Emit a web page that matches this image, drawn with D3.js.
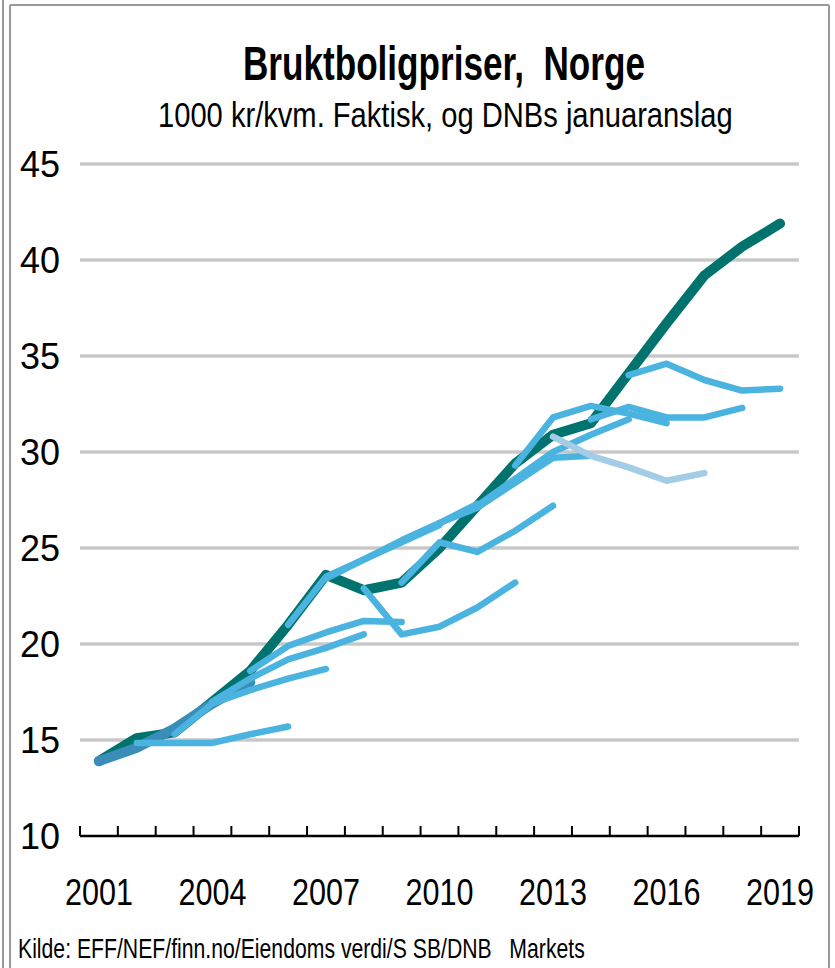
<!DOCTYPE html>
<html>
<head>
<meta charset="utf-8">
<script src="https://cdn.jsdelivr.net/npm/d3@7"></script>
<style>
  html, body { margin: 0; padding: 0; background: #fff; }
  svg { display: block; }
  text { font-family: "Liberation Sans Narrow", "Arial Narrow", "Liberation Sans", Arial, sans-serif; fill: #000; white-space: pre; }
</style>
</head>
<body>
<svg id="chart" width="835" height="968"></svg>
<script>
// år på x-aksen
const years = d3.range(2001, 2020);
const yearLabels = [2001, 2004, 2007, 2010, 2013, 2016, 2019];
const yTicks = [10, 15, 20, 25, 30, 35, 40, 45];

// faktisk pris, 1000 kr/kvm
const actual = [13.9, 15.1, 15.4, 17.0, 18.6, 21.0, 23.6, 22.8, 23.2, 25.0,
                27.2, 29.4, 30.9, 31.5, 34.1, 36.7, 39.2, 40.7, 41.9];

// DNBs januaranslag, ett per år (startår + 5 verdier)
const f2001 = [13.9, 14.6, 15.6, 16.9, 18.0];
const f2002 = [14.85, 14.85, 14.85, 15.3, 15.7];
const f2003 = [15.3, 16.9, 17.6, 18.2, 18.7];
const f2004 = [17.0, 18.2, 19.2, 19.8, 20.5];
const f2005 = [18.6, 19.9, 20.6, 21.2, 21.15];
const f2006 = [21.0, 23.5, 24.4, 25.3, 26.2];
const f2007 = [23.4, 24.4, 25.4, 26.3, 27.3];
const f2008 = [22.9, 20.5, 20.9, 21.9, 23.2];
const f2009 = [23.2, 25.3, 24.8, 25.9, 27.2];
const f2010 = [26.3, 27.1, 28.4, 29.7, 29.8];
const f2011 = [27.2, 28.6, 30.0, 30.9, 31.7];
const f2012 = [29.3, 31.8, 32.4, 32.0, 31.5];
const f2013 = [30.8, 29.8, 29.2, 28.5, 28.9];
const f2014 = [31.7, 32.35, 31.8, 31.8, 32.3];
const f2015 = [34.0, 34.6, 33.75, 33.2, 33.3];

const forecasts = [
    {start: 2001, vals: f2001, color: "#3a8db8"},
    {start: 2002, vals: f2002},
    {start: 2003, vals: f2003},
    {start: 2004, vals: f2004},
    {start: 2005, vals: f2005},
    {start: 2006, vals: f2006},
    {start: 2007, vals: f2007},
    {start: 2008, vals: f2008},
    {start: 2009, vals: f2009},
    {start: 2010, vals: f2010},
    {start: 2011, vals: f2011},
    {start: 2012, vals: f2012},
    {start: 2013, vals: f2013, color: "#a3cce6"},
    {start: 2014, vals: f2014},
    {start: 2015, vals: f2015}
];

const svg = d3.select("#chart");

const x = d3.scaleBand().domain(years).range([80, 799]);
const y = d3.scaleLinear().domain([10, 45]).range([836, 164]);
const cx = d => x(d) + x.bandwidth() / 2;

// skviser en tekst horisontalt til ønsket bredde (venstrekant x0)
function squeeze(t, x0, yb, width){
    t.attr("x", 0).attr("y", 0);
    const w = t.node().getComputedTextLength();
    t.attr("transform", "translate(" + x0 + "," + yb + ") scale(" + (width / w) + ",1)");
}

// ramme
const frame = svg.append("g").attr("stroke", "#9a9a9a").attr("stroke-width", 2).attr("fill", "none");
frame.append("line").attr("x1", 3).attr("x2", 3).attr("y1", 0).attr("y2", 968);
frame.append("line").attr("x1", 10).attr("x2", 10).attr("y1", 5).attr("y2", 968);
frame.append("line").attr("x1", 10).attr("x2", 829).attr("y1", 5).attr("y2", 5);
frame.append("line").attr("x1", 829).attr("x2", 829).attr("y1", 5).attr("y2", 968);

// tittel
squeeze(svg.append("text")
    .attr("font-size", 48).attr("font-weight", "bold")
    .text("Bruktboligpriser,  Norge"), 243, 80, 402);

squeeze(svg.append("text")
    .attr("font-size", 35)
    .text("1000 kr/kvm. Faktisk, og DNBs januaranslag"), 158, 127, 575);

// rutenett
svg.append("g").selectAll("line")
    .data(yTicks.filter(d => d > 10))
    .join("line")
    .attr("x1", 80).attr("x2", 799)
    .attr("y1", d => y(d)).attr("y2", d => y(d))
    .attr("stroke", "#c8c8c8").attr("stroke-width", 3.5);

// y-etiketter
svg.append("g").selectAll("text")
    .data(yTicks)
    .join("text")
    .attr("x", 60).attr("y", d => y(d))
    .attr("dy", "0.36em")
    .attr("text-anchor", "end")
    .attr("font-size", 37)
    .attr("textLength", 40).attr("lengthAdjust", "spacingAndGlyphs")
    .text(d => d);

// x-akse
const xAxis = svg.append("g");
xAxis.append("line")
    .attr("x1", 80).attr("x2", 799).attr("y1", y(10)).attr("y2", y(10))
    .attr("stroke", "#000").attr("stroke-width", 2.5);
xAxis.selectAll(".tick")
    .data(years.map(d => x(d)).concat([x.range()[1]]))
    .join("line")
    .attr("class", "tick")
    .attr("x1", d => d).attr("x2", d => d)
    .attr("y1", y(10)).attr("y2", y(10) - 10)
    .attr("stroke", "#000").attr("stroke-width", 2);
xAxis.selectAll("text")
    .data(yearLabels)
    .join("text")
    .attr("x", d => cx(d)).attr("y", 905)
    .attr("text-anchor", "middle")
    .attr("font-size", 37)
    .attr("textLength", 68).attr("lengthAdjust", "spacingAndGlyphs")
    .text(d => d);

// linjer
const line = d3.line().x(d => cx(d[0])).y(d => y(d[1]));

svg.append("path")
    .datum(years.map((yr, i) => [yr, actual[i]]))
    .attr("d", line)
    .attr("fill", "none")
    .attr("stroke", "#00736e")
    .attr("stroke-width", 10)
    .attr("stroke-linecap", "round")
    .attr("stroke-linejoin", "round");

svg.append("g").selectAll("path")
    .data(forecasts)
    .join("path")
    .attr("d", f => line(f.vals.map((v, i) => [f.start + i, v])))
    .attr("fill", "none")
    .attr("stroke", f => f.color || "#4ab3e0")
    .attr("stroke-width", f => f.start === 2001 ? 10 : 6.5)
    .attr("stroke-linecap", "round")
    .attr("stroke-linejoin", "round");

// kilde
squeeze(svg.append("text")
    .attr("font-size", 28)
    .text("Kilde: EFF/NEF/finn.no/Eiendoms verdi/S SB/DNB   Markets"), 18, 958, 567);
</script>
</body>
</html>
